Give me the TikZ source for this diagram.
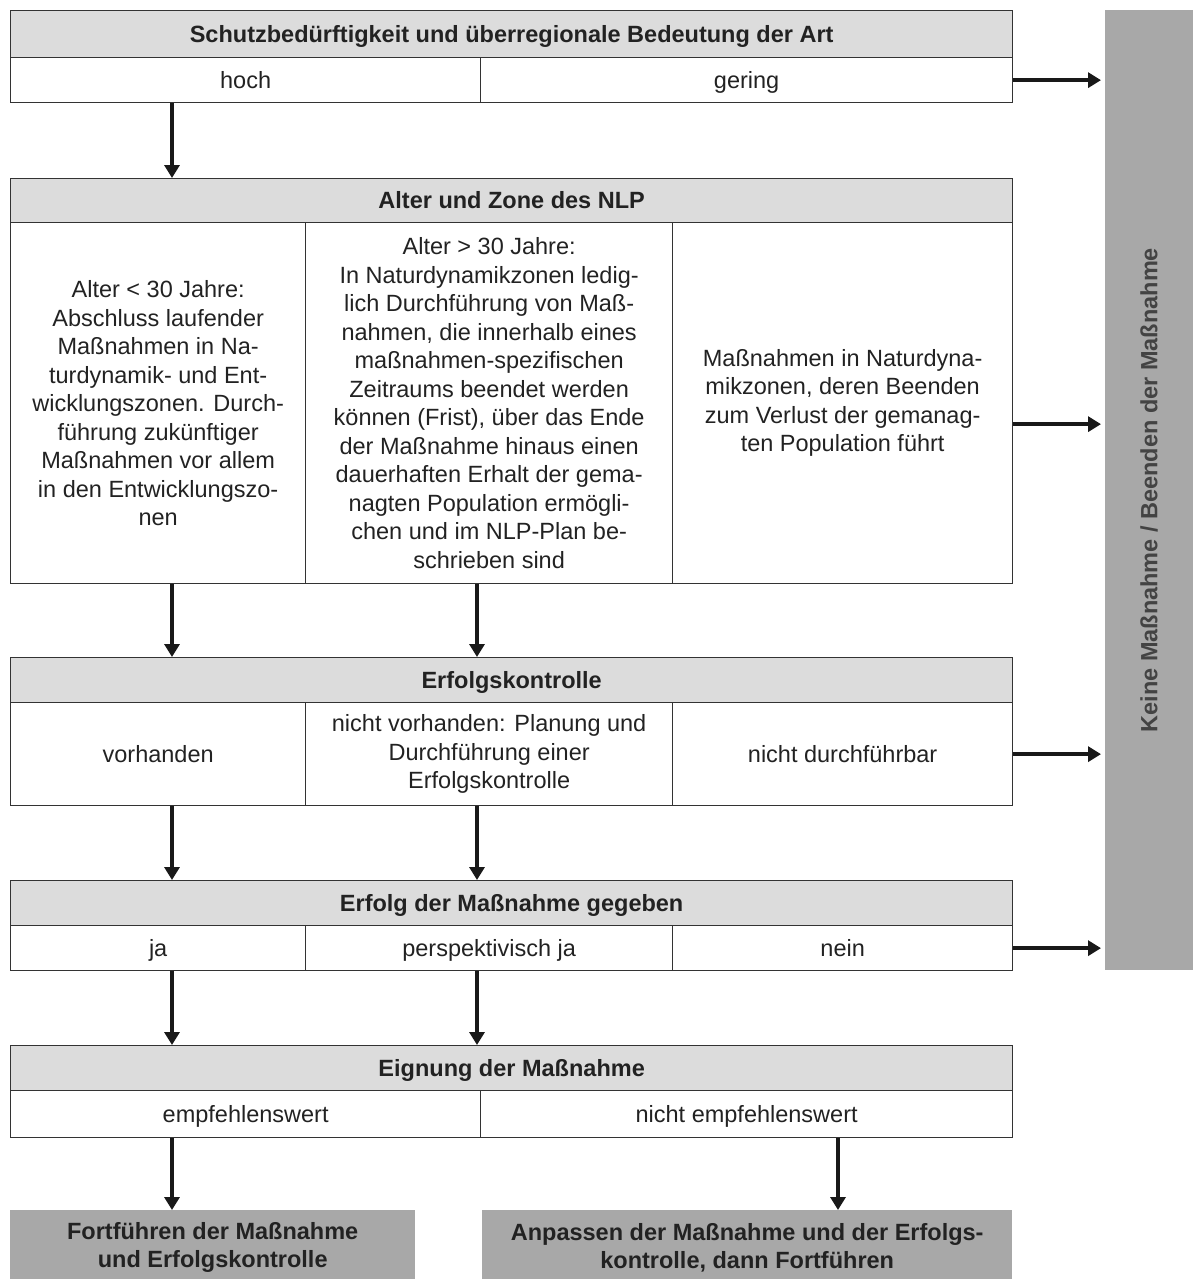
\documentclass[tikz,border=0pt]{standalone}
\usepackage{fontspec}
\setmainfont{Liberation Sans}
\usetikzlibrary{arrows.meta}
\definecolor{linecol}{HTML}{333333}
\definecolor{headfill}{HTML}{DCDCDC}
\definecolor{darkfill}{HTML}{A8A8A8}
\definecolor{textcol}{HTML}{222222}
\begin{document}
\begin{tikzpicture}[x=1pt,y=-1pt,
  cell/.style={draw=linecol, line width=1.3pt, anchor=north west, inner sep=0pt, align=center,
    text=textcol, font=\fontsize{23.5}{28.5}\selectfont},
  one/.style={text height=19pt, text depth=3pt},
  head/.style={cell, one, fill=headfill, font=\bfseries\fontsize{23.5}{28.5}\selectfont},
  result/.style={anchor=north west, inner sep=0pt, align=center, fill=darkfill, text=textcol,
    font=\bfseries\fontsize{23.5}{28.5}\selectfont},
  arr/.style={draw=black!90, line width=3.5pt, -{Triangle[length=13pt,width=15pt]}}
]
\useasboundingbox (0,0) rectangle (1193,1279);

% side bar
\node[result, minimum width=88pt, minimum height=960pt] (side) at (1105,10) {};
\node[rotate=90, text=textcol!85, font=\bfseries\fontsize{23.5}{28.5}\selectfont] (sidetext) at (side.center) {Keine Maßnahme / Beenden der Maßnahme};

% box 1
\node[head, minimum width=1002pt, minimum height=47pt] (h1) at (10,10) {Schutzbedürftigkeit und überregionale Bedeutung der Art};
\node[cell, one, minimum width=470pt, minimum height=45pt] (c1a) at (10,57) {hoch};
\node[cell, one, minimum width=532pt, minimum height=45pt] (c1b) at (480,57) {gering};

% box 2
\node[head, minimum width=1002pt, minimum height=44pt] (h2) at (10,178) {Alter und Zone des NLP};
\node[cell, minimum width=295pt, minimum height=361pt] (c2a) at (10,222) {Alter < 30 Jahre:\\Abschluss laufender\\Maßnahmen in Na-\\turdynamik- und Ent-\\wicklungszonen. Durch-\\führung zukünftiger\\Maßnahmen vor allem\\in den Entwicklungszo-\\nen};
\node[cell, minimum width=367pt, minimum height=361pt] (c2b) at (305,222) {Alter > 30 Jahre:\\In Naturdynamikzonen ledig-\\lich Durchführung von Maß-\\nahmen, die innerhalb eines\\maßnahmen-spezifischen\\Zeitraums beendet werden\\können (Frist), über das Ende\\der Maßnahme hinaus einen\\dauerhaften Erhalt der gema-\\nagten Population ermögli-\\chen und im NLP-Plan be-\\schrieben sind};
\node[cell, minimum width=340pt, minimum height=361pt] (c2c) at (672,222) {Maßnahmen in Naturdyna-\\mikzonen, deren Beenden\\zum Verlust der gemanag-\\ten Population führt};

% box 3
\node[head, minimum width=1002pt, minimum height=45pt] (h3) at (10,657) {Erfolgskontrolle};
\node[cell, one, minimum width=295pt, minimum height=103pt] (c3a) at (10,702) {vorhanden};
\node[cell, minimum width=367pt, minimum height=103pt] (c3b) at (305,702) {nicht vorhanden: Planung und\\Durchführung einer\\Erfolgskontrolle};
\node[cell, one, minimum width=340pt, minimum height=103pt] (c3c) at (672,702) {nicht durchführbar};

% box 4
\node[head, minimum width=1002pt, minimum height=45pt] (h4) at (10,880) {Erfolg der Maßnahme gegeben};
\node[cell, one, minimum width=295pt, minimum height=45pt] (c4a) at (10,925) {ja};
\node[cell, one, minimum width=367pt, minimum height=45pt] (c4b) at (305,925) {perspektivisch ja};
\node[cell, one, minimum width=340pt, minimum height=45pt] (c4c) at (672,925) {nein};

% box 5
\node[head, minimum width=1002pt, minimum height=45pt] (h5) at (10,1045) {Eignung der Maßnahme};
\node[cell, one, minimum width=470pt, minimum height=47pt] (c5a) at (10,1090) {empfehlenswert};
\node[cell, one, minimum width=532pt, minimum height=47pt] (c5b) at (480,1090) {nicht empfehlenswert};

% results
\node[result, minimum width=405pt, minimum height=75pt] (r1) at (10,1210) {Fortführen der Maßnahme\\und Erfolgskontrolle};
\node[result, minimum width=530pt, minimum height=75pt] (r2) at (482,1210) {Anpassen der Maßnahme und der Erfolgs-\\kontrolle, dann Fortführen};

% arrow columns
\coordinate (xa) at (172,0);
\coordinate (xb) at (477,0);
\coordinate (xc) at (838,0);

% down arrows
\draw[arr] (c1a.south -| xa) -- (h2.north -| xa);
\draw[arr] (c2a.south -| xa) -- (h3.north -| xa);
\draw[arr] (c2b.south -| xb) -- (h3.north -| xb);
\draw[arr] (c3a.south -| xa) -- (h4.north -| xa);
\draw[arr] (c3b.south -| xb) -- (h4.north -| xb);
\draw[arr] (c4a.south -| xa) -- (h5.north -| xa);
\draw[arr] (c4b.south -| xb) -- (h5.north -| xb);
\draw[arr] (c5a.south -| xa) -- (r1.north -| xa);
\draw[arr] (c5b.south -| xc) -- (r2.north -| xc);

% right arrows
\draw[arr, shorten >=4pt] (c1b.east) -- (side.west |- c1b.east);
\draw[arr, shorten >=4pt] ([yshift=-21pt]c2c.east) -- ([yshift=-21pt]side.west |- c2c.east);
\draw[arr, shorten >=4pt] (c3c.east) -- (side.west |- c3c.east);
\draw[arr, shorten >=4pt] (c4c.east) -- (side.west |- c4c.east);
\end{tikzpicture}
\end{document}
